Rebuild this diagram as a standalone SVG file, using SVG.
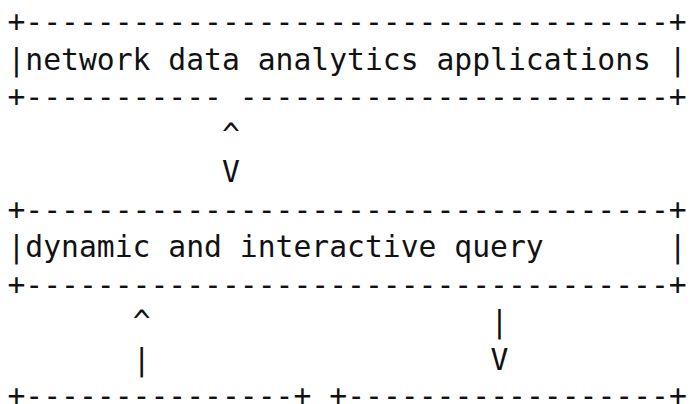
<svg xmlns="http://www.w3.org/2000/svg" width="691" height="404" viewBox="0 0 691 404">
<style>
text { font-family: "DejaVu Sans Mono", "Liberation Mono", monospace; font-size: 29.7px; fill: #111; white-space: pre; }
</style>
<rect width="691" height="404" fill="#fff"/>
<g id="apps">
<text x="7.5" y="32">+------------------------------------+</text>
<text x="7.5" y="69.5">|network data analytics applications |</text>
<text x="7.5" y="107">+----------- ------------------------+</text>
</g>
<g id="query">
<text x="7.5" y="219.5">+------------------------------------+</text>
<text x="7.5" y="257">|dynamic and interactive query       |</text>
<text x="7.5" y="294.5">+------------------------------------+</text>
</g>
<g id="bottom-left">
<text x="7.5" y="406">+---------------+</text>
</g>
<g id="bottom-right">
<text x="329.3" y="406">+------------------+</text>
</g>
<g id="connectors">
<text x="222" y="144.5">^</text>
<text x="222" y="182">V</text>
<text x="132.7" y="332">^</text>
<text x="132.7" y="369.5">|</text>
<text x="490.5" y="332">|</text>
<text x="490.5" y="369.5">V</text>
</g>
</svg>
